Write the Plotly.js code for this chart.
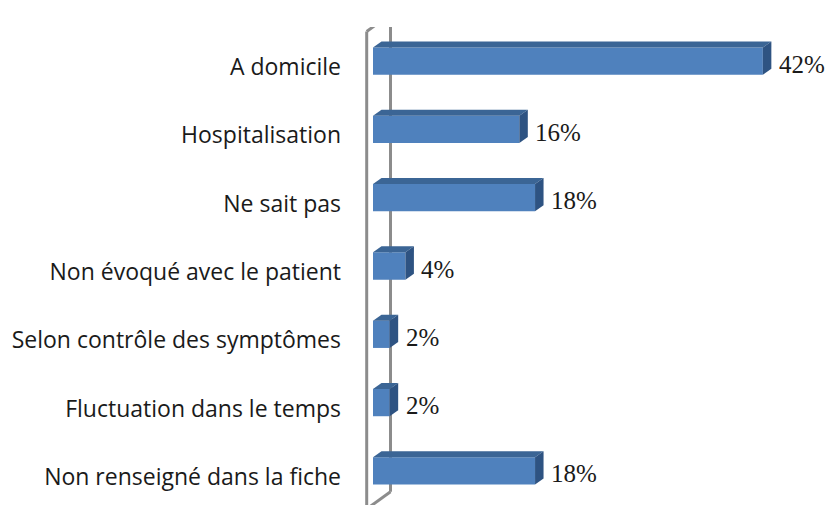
<!DOCTYPE html>
<html>
<head>
<meta charset="utf-8">
<script src="https://cdn.plot.ly/plotly-3.0.1.min.js"></script>
<style>html,body{margin:0;padding:0;background:#fff;}#chart{width:828px;height:506px;}</style>
</head>
<body>
<div id="chart"></div>
<script>
// Data
const categories = [
  "A domicile",
  "Hospitalisation",
  "Ne sait pas",
  "Non évoqué avec le patient",
  "Selon contrôle des symptômes",
  "Fluctuation dans le temps",
  "Non renseigné dans la fiche"
];
const values = [42.1, 15.8, 17.5, 3.5, 1.8, 1.8, 17.5];
const valueLabels = ["42%", "16%", "18%", "4%", "2%", "2%", "18%"];

// Layout geometry
const W = 828, H = 506;
const mL = 345, mR = 0, mT = 27, mB = 1;
const plotW = W - mL - mR, plotH = H - mT - mB;
const pxPerUnit = 9.26;
const x0 = -(373 - mL) / pxPerUnit;
const x1 = x0 + plotW / pxPerUnit;
const yRange = [categories.length - 0.5, -0.5];
const pxPerCat = plotH / categories.length;

const barW = 0.40;
const dx = 8.5 / pxPerUnit;      // depth offset in x data units
const dy = 6 / pxPerCat;          // depth offset in y data units

// pixel -> data helpers for the decorative wall
const px2x = p => x0 + (p - mL) / pxPerUnit;
const py2y = p => -0.5 + (p - mT) / pxPerCat;

const idx = categories.map((_, i) => i);

const shapes = [];
// Back wall (drawn under bars)
const wallStyle = {color: '#8c8c8c', width: 3};
const wall = [
  [366.7, 31.5, 366.7, 512],
  [390.5, 14, 390.5, 491.7],
  [366.7, 31.5, 390.5, 14],
  [390.5, 491.7, 366.7, 509]
];
wall.forEach(w => shapes.push({
  type: 'line', xref: 'x', yref: 'y', layer: 'below',
  x0: px2x(w[0]), y0: py2y(w[1]), x1: px2x(w[2]), y1: py2y(w[3]),
  line: wallStyle
}));

// 3D faces for each bar
values.forEach((v, i) => {
  const yt = i - barW / 2, yb = i + barW / 2;
  const top = `M ${0},${yt} L ${v},${yt} L ${v + dx},${yt - dy} L ${dx},${yt - dy} Z`;
  const side = `M ${v},${yt} L ${v},${yb} L ${v + dx},${yb - dy} L ${v + dx},${yt - dy} Z`;
  shapes.push({type: 'path', xref: 'x', yref: 'y', layer: 'above', path: top,
    fillcolor: '#3B6595', line: {width: 0}});
  shapes.push({type: 'path', xref: 'x', yref: 'y', layer: 'above', path: side,
    fillcolor: '#2E5382', line: {width: 0}});
});

const annotations = values.map((v, i) => ({
  x: v, y: i, xref: 'x', yref: 'y', text: valueLabels[i],
  showarrow: false, xanchor: 'left', yanchor: 'middle', xshift: 14, yshift: -3,
  font: {family: 'Liberation Serif, Times New Roman, serif', size: 25, color: '#1a1a1a'}
}));

const trace = {
  type: 'bar', orientation: 'h',
  x: values, y: idx, width: barW,
  marker: {color: '#4F81BD', line: {width: 0}},
  hoverinfo: 'skip'
};

const layout = {
  width: W, height: H,
  margin: {l: mL, r: mR, t: mT, b: mB, pad: 0},
  paper_bgcolor: '#ffffff', plot_bgcolor: 'rgba(0,0,0,0)',
  showlegend: false,
  xaxis: {range: [x0, x1], visible: false, showgrid: false, zeroline: false, fixedrange: true},
  yaxis: {
    range: yRange, tickmode: 'array', tickvals: idx, ticktext: categories,
    showgrid: false, zeroline: false, showline: false, ticks: '',
    ticklabelstandoff: 3, ticklabelshift: -6,
    tickfont: {family: 'Open Sans, sans-serif', size: 23, color: '#1a1a1a'}
  },
  shapes: shapes,
  annotations: annotations
};

Plotly.newPlot('chart', [trace], layout, {staticPlot: true, displayModeBar: false});
</script>
</body>
</html>
